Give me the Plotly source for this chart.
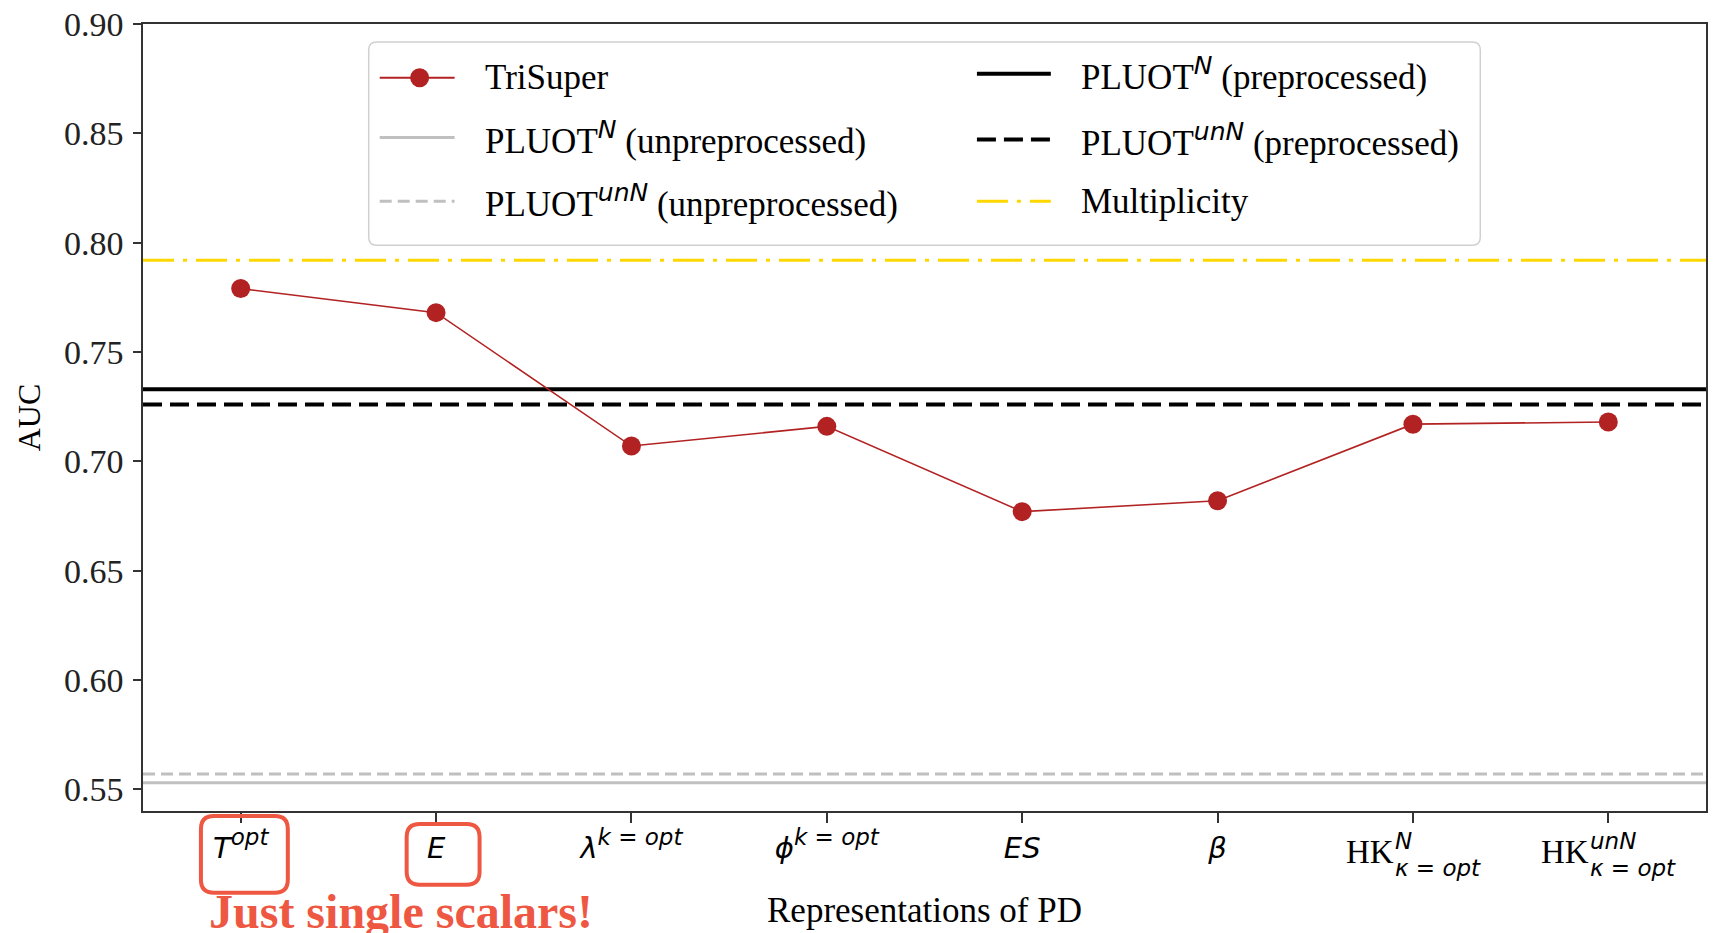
import plotly.graph_objects as go

# ---- data -------------------------------------------------------------
categories = ["T_opt", "E", "lambda_k", "phi_k", "ES", "beta", "HK_N", "HK_unN"]


def _sup(s, size=23):
    return f'<sup><span style="font-size:{size}px"><i>{s}</i></span></sup>'


tick_labels = [
    "<i>T</i>" + _sup("opt"),
    "<i>E</i>",
    "<i>λ</i>" + _sup("k = opt"),
    "<i>ϕ</i>" + _sup("k = opt"),
    "<i>ES</i>",
    "<i>β</i>",
    "",
    "",
]
trisuper_auc = [0.779, 0.768, 0.707, 0.716, 0.677, 0.682, 0.717, 0.718]

# horizontal reference lines (AUC of the baselines)
reference_keys = ["pluot_n_pre", "pluot_unn_pre", "pluot_n_unpre", "pluot_unn_unpre", "multiplicity"]
reference_auc = [0.733, 0.726, 0.553, 0.557, 0.792]

y_ticks = [0.55, 0.60, 0.65, 0.70, 0.75, 0.80, 0.85, 0.90]

# ---- geometry helpers (figure is a fixed 1714 x 933 canvas) -------------
W, H = 1714, 933
ML, MR, MT, MB = 143, 6, 21, 122
PW, PH = W - ML - MR, H - MT - MB


def px(x):
    return (x - ML) / PW


def py(y):
    return (H - MB - y) / PH


def rounded_rect(x0, y0, x1, y1, r):
    """SVG path for a rounded rectangle given pixel corners."""
    rx, ry = r / PW, r / PH
    a, b, c, d = px(x0), py(y1), px(x1), py(y0)  # left, bottom, right, top
    return (
        f"M {a + rx},{b} L {c - rx},{b} Q {c},{b} {c},{b + ry} "
        f"L {c},{d - ry} Q {c},{d} {c - rx},{d} L {a + rx},{d} "
        f"Q {a},{d} {a},{d - ry} L {a},{b + ry} Q {a},{b} {a + rx},{b} Z"
    )


SERIF = "Liberation Serif"
SANS = "DejaVu Sans"
RED_NOTE = "#EE5843"

styles = {
    "pluot_n_pre": dict(color="black", width=4, dash="solid"),
    "pluot_unn_pre": dict(color="black", width=4, dash="19px,8px"),
    "pluot_n_unpre": dict(color="#c0c0c0", width=3, dash="solid"),
    "pluot_unn_unpre": dict(color="#c0c0c0", width=3, dash="12px,6px"),
    "multiplicity": dict(color="#FFD700", width=3, dash="31px,9px,4px,9px"),
}

fig = go.Figure()

# reference lines spanning the full x range
for key, val in zip(reference_keys, reference_auc):
    fig.add_trace(
        go.Scatter(
            x=[-0.5, 7.5],
            y=[val, val],
            mode="lines",
            line=styles[key],
            showlegend=False,
            hoverinfo="skip",
        )
    )

# TriSuper curve
fig.add_trace(
    go.Scatter(
        x=list(range(len(categories))),
        y=trisuper_auc,
        mode="lines+markers",
        line=dict(color="#B22222", width=1.6),
        marker=dict(color="#B22222", size=19),
        showlegend=False,
    )
)

shapes = []
annotations = []

# ---- legend box --------------------------------------------------------
shapes.append(
    dict(
        type="path",
        xref="paper",
        yref="paper",
        path=rounded_rect(369, 39, 1482, 243, 8),
        line=dict(color="#d0d0d0", width=1.5),
        fillcolor="rgba(255,255,255,0.85)",
        layer="above",
    )
)


def leg_sup(s):
    return f'<sup><span style="font-family:{SANS};font-size:25px"><i>{s}</i></span></sup>'


legend_rows = [
    # (line x0, x1, row y, text x, label, style)
    (380, 455, 75, 483, "TriSuper", dict(color="#B22222", width=2, dash="solid")),
    (380, 455, 135, 483, "PLUOT" + leg_sup("N") + " (unpreprocessed)", styles["pluot_n_unpre"]),
    (380, 455, 199, 483, "PLUOT" + leg_sup("unN") + " (unpreprocessed)", styles["pluot_unn_unpre"]),
    (978, 1052, 71, 1080, "PLUOT" + leg_sup("N") + " (preprocessed)", styles["pluot_n_pre"]),
    (978, 1052, 137, 1080, "PLUOT" + leg_sup("unN") + " (preprocessed)", styles["pluot_unn_pre"]),
    (978, 1052, 199, 1080, "Multiplicity", styles["multiplicity"]),
]
for x0, x1, yy, tx, label, st in legend_rows:
    shapes.append(
        dict(
            type="line",
            xref="paper",
            yref="paper",
            x0=px(x0),
            x1=px(x1),
            y0=py(yy),
            y1=py(yy),
            line=st,
            layer="above",
        )
    )
    annotations.append(
        dict(
            x=px(tx),
            y=py(yy),
            xref="paper",
            yref="paper",
            xanchor="left",
            yanchor="middle",
            text=label,
            showarrow=False,
            font=dict(family=SERIF, size=35, color="black"),
        )
    )

# marker in the TriSuper legend sample
r = 9.5
shapes.append(
    dict(
        type="circle",
        xref="paper",
        yref="paper",
        x0=px(420 - r),
        x1=px(420 + r),
        y0=py(75 + r),
        y1=py(75 - r),
        fillcolor="#B22222",
        line=dict(color="#B22222", width=0),
        layer="above",
    )
)

# ---- HK tick labels (stacked super/subscripts) --------------------------
for idx, upper in ((6, "N"), (7, "unN")):
    annotations.append(
        dict(
            x=idx, xref="x", y=py(852), yref="paper", xshift=-17,
            xanchor="right", yanchor="middle", text="HK", showarrow=False,
            font=dict(family=SERIF, size=33, color="black"),
        )
    )
    annotations.append(
        dict(
            x=idx, xref="x", y=py(841), yref="paper", xshift=-20,
            xanchor="left", yanchor="middle", text=f"<i>{upper}</i>", showarrow=False,
            font=dict(family=SANS, size=23, color="black"),
        )
    )
    annotations.append(
        dict(
            x=idx, xref="x", y=py(868), yref="paper", xshift=-20,
            xanchor="left", yanchor="middle", text="<i>κ = opt</i>", showarrow=False,
            font=dict(family=SANS, size=23, color="black"),
        )
    )

# ---- highlight boxes and note ------------------------------------------
for (x0, y0, x1, y1) in ((201, 816, 288, 893), (407, 824, 480, 885)):
    shapes.append(
        dict(
            type="path",
            xref="paper",
            yref="paper",
            path=rounded_rect(x0, y0, x1, y1, 13),
            line=dict(color=RED_NOTE, width=4),
            fillcolor="rgba(0,0,0,0)",
        )
    )

annotations.append(
    dict(
        x=px(401), y=py(912), xref="paper", yref="paper",
        xanchor="center", yanchor="middle",
        text="<b>Just single scalars!</b>", showarrow=False,
        font=dict(family=SERIF, size=48, color=RED_NOTE),
    )
)

fig.update_layout(
    width=W,
    height=H,
    margin=dict(l=ML, r=MR, t=MT, b=MB, pad=0),
    paper_bgcolor="white",
    plot_bgcolor="white",
    shapes=shapes,
    annotations=annotations,
    showlegend=False,
)

fig.update_xaxes(
    range=[-0.5, 7.5],
    tickmode="array",
    tickvals=list(range(len(categories))),
    ticktext=tick_labels,
    tickfont=dict(family=SANS, size=29, color="black"),
    ticks="outside",
    ticklen=10,
    tickwidth=1.5,
    tickcolor="#333",
    showline=True,
    linecolor="#333",
    linewidth=1.5,
    mirror=True,
    showgrid=False,
    zeroline=False,
    title=dict(text="Representations of PD", font=dict(family=SERIF, size=35, color="black"), standoff=34),
)
fig.update_yaxes(
    range=[0.5401, 0.90],
    tickmode="array",
    tickvals=y_ticks,
    ticktext=[f"{v:.2f}" for v in y_ticks],
    tickfont=dict(family=SERIF, size=34, color="#222"),
    ticks="outside",
    ticklen=8,
    tickwidth=1.5,
    tickcolor="#333",
    ticklabelstandoff=3,
    showline=True,
    linecolor="#333",
    linewidth=1.5,
    mirror=True,
    showgrid=False,
    zeroline=False,
    title=dict(text="AUC", font=dict(family=SERIF, size=32, color="black"), standoff=14),
)

fig.write_html("out.html")
